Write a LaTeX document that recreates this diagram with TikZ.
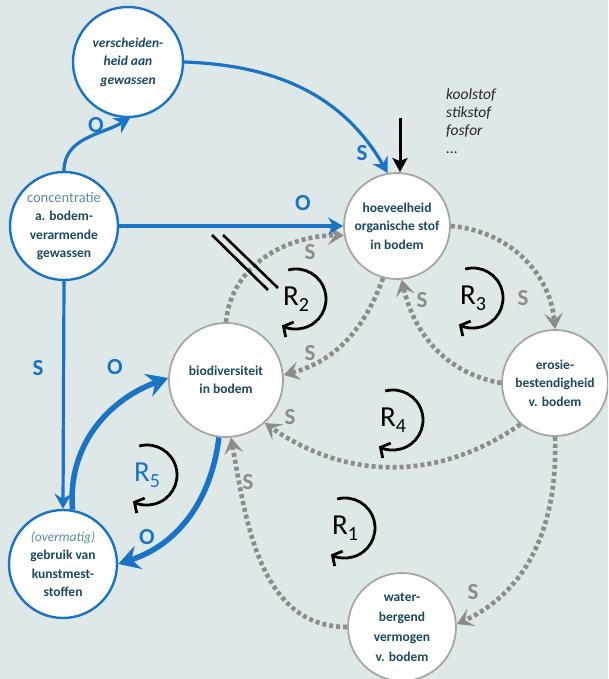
\documentclass[tikz,border=0pt]{standalone}
\usepackage{fontspec}
\setmainfont{Carlito}
\usetikzlibrary{arrows.meta, positioning, calc}

\definecolor{bgpanel}{HTML}{DEE8E9}
\definecolor{cldblue}{HTML}{1A73C4}
\definecolor{cldteal}{HTML}{1C4A60}
\definecolor{cldgrey}{HTML}{8C8C8C}
\definecolor{cldpale}{HTML}{5A8BA6}

\begin{document}
\begin{tikzpicture}[x=1pt, y=1pt,
    factor/.style={circle, fill=white, minimum size=108pt, inner sep=0pt, align=center,
      text=cldteal, font=\fontsize{13.5}{18.5}\selectfont\bfseries},
    bluefactor/.style={factor, draw=cldblue, line width=2.4pt},
    greyfactor/.style={factor, draw=gray!70, line width=1.8pt},
    link/.style={cldblue, line width=3.2pt, -{Stealth[length=15pt, width=17pt, inset=5pt]}},
    thicklink/.style={cldblue, line width=5.5pt, -{Stealth[length=21pt, width=24pt, inset=7pt]}},
    dotlink/.style={cldgrey, line width=4.6pt, dash pattern=on 4pt off 3pt,
      -{Stealth[length=16pt, width=19pt, inset=7pt]}},
    signblue/.style={text=cldblue, font=\fontsize{23}{23}\selectfont\bfseries},
    signgrey/.style={text=cldgrey, font=\fontsize{23}{23}\selectfont\bfseries},
    looplabel/.style={inner sep=0pt, font=\fontsize{29}{29}\selectfont},
    loopline/.style={black, line width=2.8pt, -{Straight Barb[length=7pt, width=17pt]}}]

  % Panel
  \useasboundingbox (0,0) rectangle (608,679);
  \clip (0,0) rectangle (608,679);
  \fill[bgpanel] (0,0) rectangle (608,679);

  % Factors
  \node[bluefactor, minimum size=110pt, font=\fontsize{13.5}{18.5}\selectfont\bfseries\itshape]
    (crops) at (128,617) {verscheiden-\\heid aan\\gewassen};
  \node[bluefactor] (conc) at (64,453)
    {{\mdseries\fontsize{14.5}{18.5}\selectfont\color{cldpale}concentratie}\\a. bodem-\\verarmende\\gewassen};
  \node[greyfactor, minimum size=106pt] (orgmat) at (397,453) {hoeveelheid\\organische stof\\in bodem};
  \node[greyfactor, minimum size=114pt] (biodiv) at (226,299) {biodiversiteit\\in bodem};
  \node[greyfactor, minimum size=106pt] (erosion) at (555,296) {erosie-\\bestendigheid\\v. bodem};
  \node[greyfactor, font=\fontsize{13.5}{20}\selectfont\bfseries] (waterhold) at (402,52)
    {water-\\bergend\\vermogen\\v. bodem};
  \node[bluefactor] (fert) at (63,115)
    {{\mdseries\itshape\color{cldpale}(overmatig)}\\gebruik van\\kunstmest-\\stoffen};

  % Nutrient input
  \coordinate (nutin) at (400,561);
  \node[anchor=north west, align=left, inner sep=0pt, text=black!85,
    font=\fontsize{15.5}{18}\selectfont\itshape] (nutrients) at (446,590)
    {koolstof\\stikstof\\fosfor\\...};
  \draw[black, line width=3pt, -{Stealth[length=14pt, width=15pt, inset=3pt]}]
    (nutin) -- (nutin |- orgmat.north);

  % Grey (soil) links
  \draw[dotlink] (biodiv.north) to[out=85, in=180] (orgmat.190);
  \draw[dotlink] (orgmat.255) to[out=250, in=15] (biodiv.5);
  \draw[dotlink] (erosion.west) to[out=170, in=-77] (orgmat.-85);
  \draw[dotlink] (orgmat.east) to[out=-5, in=95] (erosion.north);
  \draw[dotlink] (erosion.230) to[out=215, in=-35] (biodiv.-48);
  \draw[dotlink] (erosion.south) to[out=-88, in=25] (waterhold.3);
  \draw[dotlink] (waterhold.west) to[out=180, in=-80] (biodiv.-85);

  % Delay mark
  \draw[black, line width=2.6pt] (212,444) -- (268,389);
  \draw[black, line width=2.6pt] (223,444) -- (278,391);

  % Blue (management) links
  \draw[link] (conc.north) to[out=90, in=210] (crops.272);
  \draw[link] (crops.east) to[out=-2, in=120] (orgmat.100);
  \draw[link] (conc.east) -- (orgmat.west);
  \draw[link] (conc.south) -- (fert.north);
  \draw[thicklink] (fert.80) to[out=95, in=200] (biodiv.178);
  \draw[thicklink] (biodiv.-97) to[out=-97, in=18] (fert.east);

  % Signs
  \node[signblue] (sCV) at (96,554) {O};
  \node[signblue] (sVH) at (362,526) {S};
  \node[signblue] (sCH) at (303,476) {O};
  \node[signblue] (sCG) at (38,311) {S};
  \node[signblue] (sGB) at (115,312) {O};
  \node[signblue] (sBG) at (147,142) {O};
  \node[signgrey] (sBH) at (310,427) {S};
  \node[signgrey] (sHB) at (310,326) {S};
  \node[signgrey] (sEH) at (422,379) {S};
  \node[signgrey] (sHE) at (523,381) {S};
  \node[signgrey] (sEB) at (290,262) {S};
  \node[signgrey] (sEW) at (473,87) {S};
  \node[signgrey] (sWB) at (248,197) {S};

  % Loops
  \node[looplabel] (R1) at (345,151) {R\raisebox{-6pt}{\fontsize{20}{20}\selectfont 1}};
  \node[looplabel] (R2) at (296,380) {R\raisebox{-6pt}{\fontsize{20}{20}\selectfont 2}};
  \node[looplabel] (R3) at (473,381) {R\raisebox{-6pt}{\fontsize{20}{20}\selectfont 3}};
  \node[looplabel] (R4) at (393,259) {R\raisebox{-6pt}{\fontsize{20}{20}\selectfont 4}};
  \node[looplabel, text=cldblue] (R5) at (147,204) {R\raisebox{-6pt}{\fontsize{20}{20}\selectfont 5}};
  \foreach \lp in {R1, R2, R3, R4, R5}
    \draw[loopline] (\lp.center) ++(105:30) arc[start angle=105, end angle=-118, radius=30];
\end{tikzpicture}
\end{document}
